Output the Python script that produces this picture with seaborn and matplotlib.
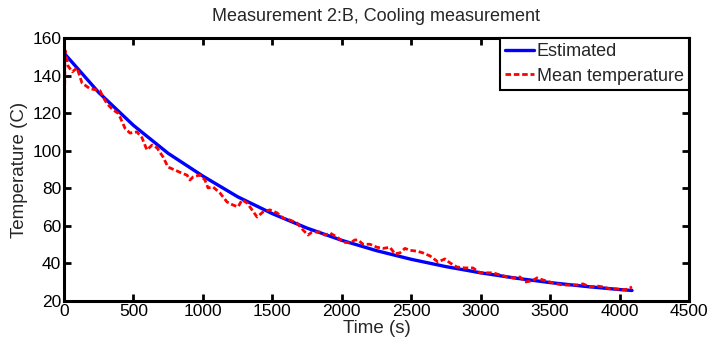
import numpy as np
import pandas as pd
import seaborn as sns
import matplotlib.pyplot as plt

# estimated cooling curve
est_time = [0, 250, 500, 750, 1000, 1250, 1500, 1750, 2000, 2250, 2500,
            2750, 3000, 3250, 3500, 3750, 4000, 4090]
est_temp = [152, 131, 113.5, 98.6, 86.5, 75.5, 66.5, 58.8, 52.3, 46.8, 42.2,
            38.3, 35, 32.2, 29.8, 27.8, 26.1, 25.6]

# measured mean temperature
meas_time = [0, 7, 30, 60, 94, 130, 187, 259, 281, 310, 353, 389, 403, 439,
             475, 525, 561, 597, 634, 670, 713, 749, 799, 850, 886, 907, 929,
             979, 1015, 1037, 1073, 1123, 1174, 1217, 1253, 1282, 1318, 1354,
             1390, 1433, 1483, 1534, 1577, 1627, 1678, 1721, 1757, 1786, 1843,
             1879, 1915, 1966, 2009, 2059, 2095, 2117, 2153, 2203, 2254, 2297,
             2347, 2383, 2419, 2455, 2491, 2542, 2585, 2635, 2693, 2743, 2779,
             2829, 2887, 2945, 2995, 3046, 3089, 3139, 3190, 3233, 3283, 3319,
             3370, 3406, 3449, 3499, 3550, 3593, 3643, 3694, 3737, 3787, 3838,
             3881, 3931, 3982, 4025, 4061, 4090]
meas_temp = [86, 153.5, 145, 142, 144, 136, 133, 132, 128.6, 125, 121.7, 120,
             118, 112, 109.4, 110, 107, 100.4, 103, 101.5, 96.7, 91.3, 89.7,
             88, 87, 84.4, 86, 87.1, 84.4, 80.2, 80.7, 77.5, 72.7, 71.1, 70.1,
             73.8, 72.2, 68.5, 64.7, 67.4, 68.5, 66.9, 64.2, 63.1, 61.5, 57.8,
             55.1, 56.7, 56.7, 55.1, 56.2, 54, 51.4, 50.9, 52.5, 52.5, 50.2,
             50.2, 48.6, 48, 48.6, 45.1, 45.6, 48, 47, 46.5, 45.6, 44, 40.8,
             42.4, 40.3, 38.1, 37.6, 37.6, 35, 35, 35, 33.9, 32.8, 32.3, 32.8,
             30.1, 30.7, 32.3, 31.2, 30.1, 29.1, 28.5, 28.5, 28.5, 29.1, 27.5,
             28, 27.5, 26.4, 26.4, 25.9, 26.4, 27.5]

est = pd.DataFrame({"Time": est_time, "Temp": est_temp})
meas = pd.DataFrame({"Time": meas_time, "Temp": meas_temp})

sns.set_style("ticks")
plt.rcParams["font.family"] = ["Liberation Sans", "DejaVu Sans"]

fig = plt.figure(figsize=(7.11, 3.41), dpi=100)
ax = fig.add_axes([0.090, 0.1173, 0.879, 0.7713])

sns.lineplot(data=est, x="Time", y="Temp", color="#0000ff", lw=2.4,
             label="Estimated", ax=ax, sort=False)
sns.lineplot(data=meas, x="Time", y="Temp", color="#ff0000", lw=2.0,
             linestyle=(0, (2, 1.0)), label="Mean temperature", ax=ax, sort=False)

ax.set_xlim(0, 4500)
ax.set_ylim(20, 160)
ax.set_xticks(np.arange(0, 4501, 500))
ax.set_yticks(np.arange(20, 161, 20))
ax.tick_params(direction="in", length=5, width=2, top=True, right=True,
               labelsize=12.5, pad=2, colors="black")
for s in ax.spines.values():
    s.set_linewidth(2.2)
    s.set_color("black")

ax.set_xlabel("Time (s)", fontsize=13.5, labelpad=1)
ax.set_ylabel("Temperature (C)", fontsize=13.5, labelpad=3)
ax.set_title("Measurement 2:B, Cooling measurement", fontsize=13, pad=12)

leg = ax.legend(loc="upper right", borderaxespad=0, fontsize=13,
                handlelength=1.6, handletextpad=0.15, borderpad=0.3,
                labelspacing=0.4, fancybox=False, framealpha=1)
leg.get_frame().set_edgecolor("black")
leg.get_frame().set_linewidth(1.5)

plt.savefig("out.png", dpi=100)
plt.close()
